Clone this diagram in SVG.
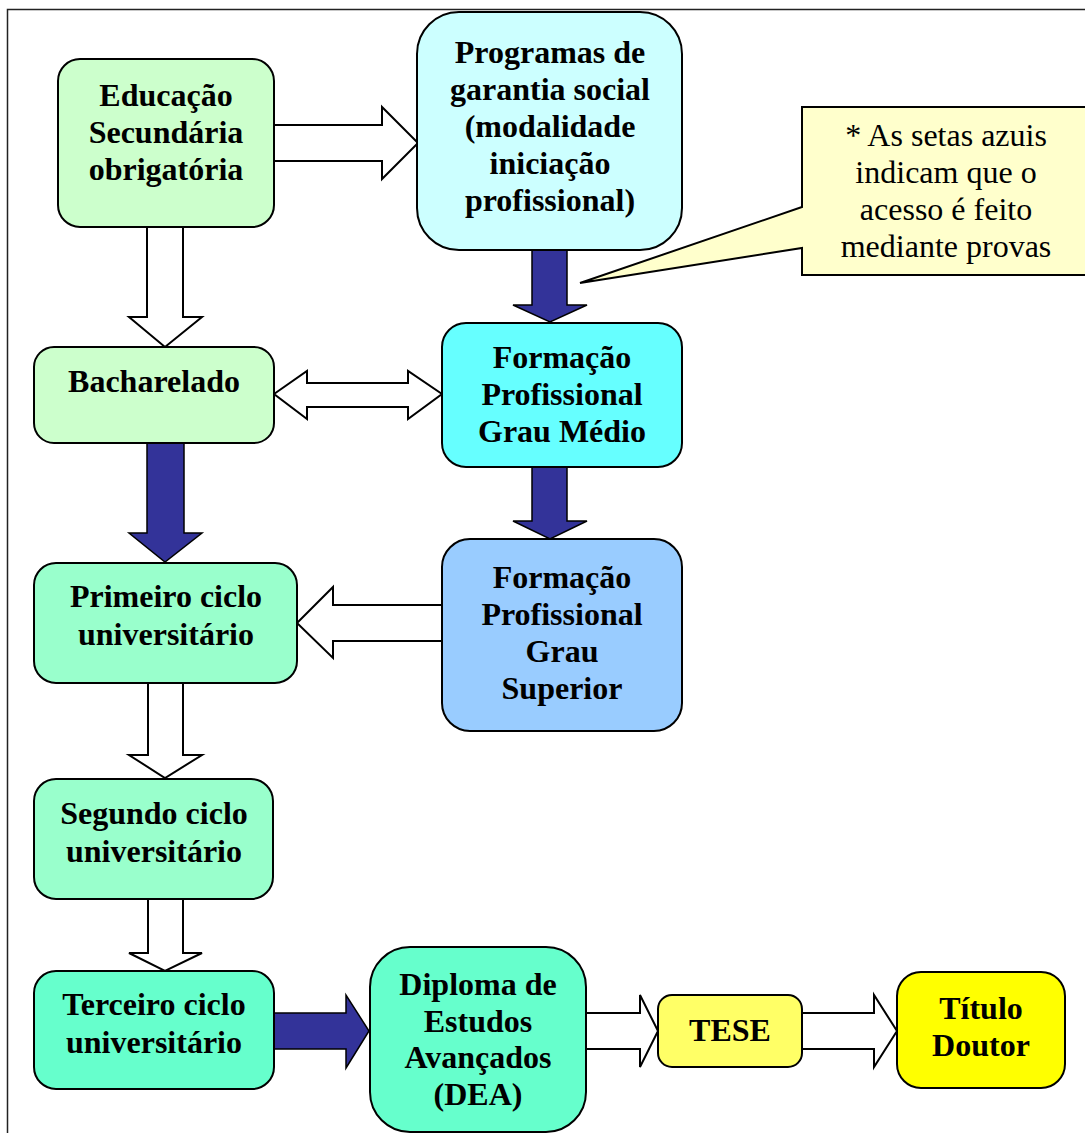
<svg xmlns="http://www.w3.org/2000/svg" width="1085" height="1133" viewBox="0 0 1085 1133">
<style>
.box{stroke:#000;stroke-width:2}
.t{font-family:"Liberation Serif","Times New Roman",serif;font-size:32px;font-weight:bold;fill:#000;text-anchor:middle}
.n{font-family:"Liberation Serif","Times New Roman",serif;font-size:32px;fill:#000;text-anchor:middle}
.wa{fill:#fff;stroke:#000;stroke-width:2;stroke-linejoin:miter}
.ba{fill:#333399;stroke:#000;stroke-width:1.5;stroke-linejoin:miter}
</style>
<rect x="0" y="0" width="1085" height="1133" fill="#fff"/>
<rect id="frame" x="7.5" y="9.5" width="1200" height="1200" fill="none" stroke="#222" stroke-width="1.5"/>

<g id="connectors">
  <polygon class="wa" points="274,125 382,125 382,107 418,143 382,179 382,161 274,161"/>
  <polygon class="wa" points="147,227 147,317 129,317 165,347 202,317 183,317 183,227"/>
  <polygon class="ba" points="532,250 532,305 513,305 550,322 587,305 567,305 567,250"/>
  <polygon class="wa" points="274,394 307,371 307,383 408,383 408,371 442,394 408,419 408,407 307,407 307,419"/>
  <polygon class="ba" points="147,443 147,533 129,533 165,562 202,533 184,533 184,443"/>
  <polygon class="ba" points="532,467 532,521 513,521 550,539 587,521 567,521 567,467"/>
  <polygon class="wa" points="442,605 333,605 333,587 297,623 333,658 333,641 442,641"/>
  <polygon class="wa" points="148,683 148,755 129,755 165,778 202,755 183,755 183,683"/>
  <polygon class="wa" points="148,899 148,953 129,953 165,971 202,953 183,953 183,899"/>
  <polygon class="ba" points="274,1013 346,1013 346,995 369,1031 346,1068 346,1049 274,1049"/>
  <polygon class="wa" points="586,1013 640,1013 640,995 658,1031 640,1067 640,1049 586,1049"/>
  <polygon class="wa" points="802,1013 874,1013 874,995 897,1031 874,1067 874,1049 802,1049"/>
</g>

<g id="node-educacao">
  <rect class="box" x="58" y="59" width="216" height="168" rx="22" fill="#CCFFCC"/>
  <text class="t" x="166" y="106">Educação</text>
  <text class="t" x="166" y="143">Secundária</text>
  <text class="t" x="166" y="180">obrigatória</text>
</g>

<g id="node-programas">
  <rect class="box" x="417" y="12" width="265" height="238" rx="42" fill="#CCFFFF"/>
  <text class="t" x="550" y="63">Programas de</text>
  <text class="t" x="550" y="100">garantia social</text>
  <text class="t" x="550" y="137">(modalidade</text>
  <text class="t" x="550" y="174">iniciação</text>
  <text class="t" x="550" y="211">profissional)</text>
</g>

<g id="node-nota">
  <path d="M802,107 L1092,107 L1092,275 L802,275 L802,248 L580,283 L802,207 Z" fill="#FFFFCC" stroke="#000" stroke-width="2" stroke-linejoin="miter"/>
  <text class="n" x="946" y="146">* As setas azuis</text>
  <text class="n" x="946" y="183">indicam que o</text>
  <text class="n" x="946" y="220">acesso é feito</text>
  <text class="n" x="946" y="257">mediante provas</text>
</g>

<g id="node-bacharelado">
  <rect class="box" x="34" y="347" width="240" height="96" rx="20" fill="#CCFFCC"/>
  <text class="t" x="154" y="392">Bacharelado</text>
</g>

<g id="node-fp-medio">
  <rect class="box" x="442" y="323" width="240" height="144" rx="24" fill="#66FFFF"/>
  <text class="t" x="562" y="368">Formação</text>
  <text class="t" x="562" y="405">Profissional</text>
  <text class="t" x="562" y="442">Grau Médio</text>
</g>

<g id="node-fp-superior">
  <rect class="box" x="442" y="539" width="240" height="192" rx="28" fill="#99CCFF"/>
  <text class="t" x="562" y="588">Formação</text>
  <text class="t" x="562" y="625">Profissional</text>
  <text class="t" x="562" y="662">Grau</text>
  <text class="t" x="562" y="699">Superior</text>
</g>

<g id="node-primeiro">
  <rect class="box" x="34" y="563" width="263" height="120" rx="22" fill="#99FFCC"/>
  <text class="t" x="166" y="607">Primeiro ciclo</text>
  <text class="t" x="166" y="645">universitário</text>
</g>

<g id="node-segundo">
  <rect class="box" x="34" y="779" width="239" height="120" rx="22" fill="#99FFCC"/>
  <text class="t" x="154" y="824">Segundo ciclo</text>
  <text class="t" x="154" y="862">universitário</text>
</g>

<g id="node-terceiro">
  <rect class="box" x="34" y="971" width="240" height="118" rx="22" fill="#66FFCC"/>
  <text class="t" x="154" y="1015">Terceiro ciclo</text>
  <text class="t" x="154" y="1053">universitário</text>
</g>

<g id="node-dea">
  <rect class="box" x="370" y="947" width="216" height="185" rx="40" fill="#66FFCC"/>
  <text class="t" x="478" y="995">Diploma de</text>
  <text class="t" x="478" y="1032">Estudos</text>
  <text class="t" x="478" y="1068">Avançados</text>
  <text class="t" x="478" y="1105">(DEA)</text>
</g>

<g id="node-tese">
  <rect class="box" x="658" y="995" width="144" height="72" rx="14" fill="#FFFF66"/>
  <text class="t" x="730" y="1041">TESE</text>
</g>

<g id="node-titulo">
  <rect class="box" x="897" y="972" width="168" height="116" rx="24" fill="#FFFF00"/>
  <text class="t" x="981" y="1019">Título</text>
  <text class="t" x="981" y="1056">Doutor</text>
</g>
</svg>
